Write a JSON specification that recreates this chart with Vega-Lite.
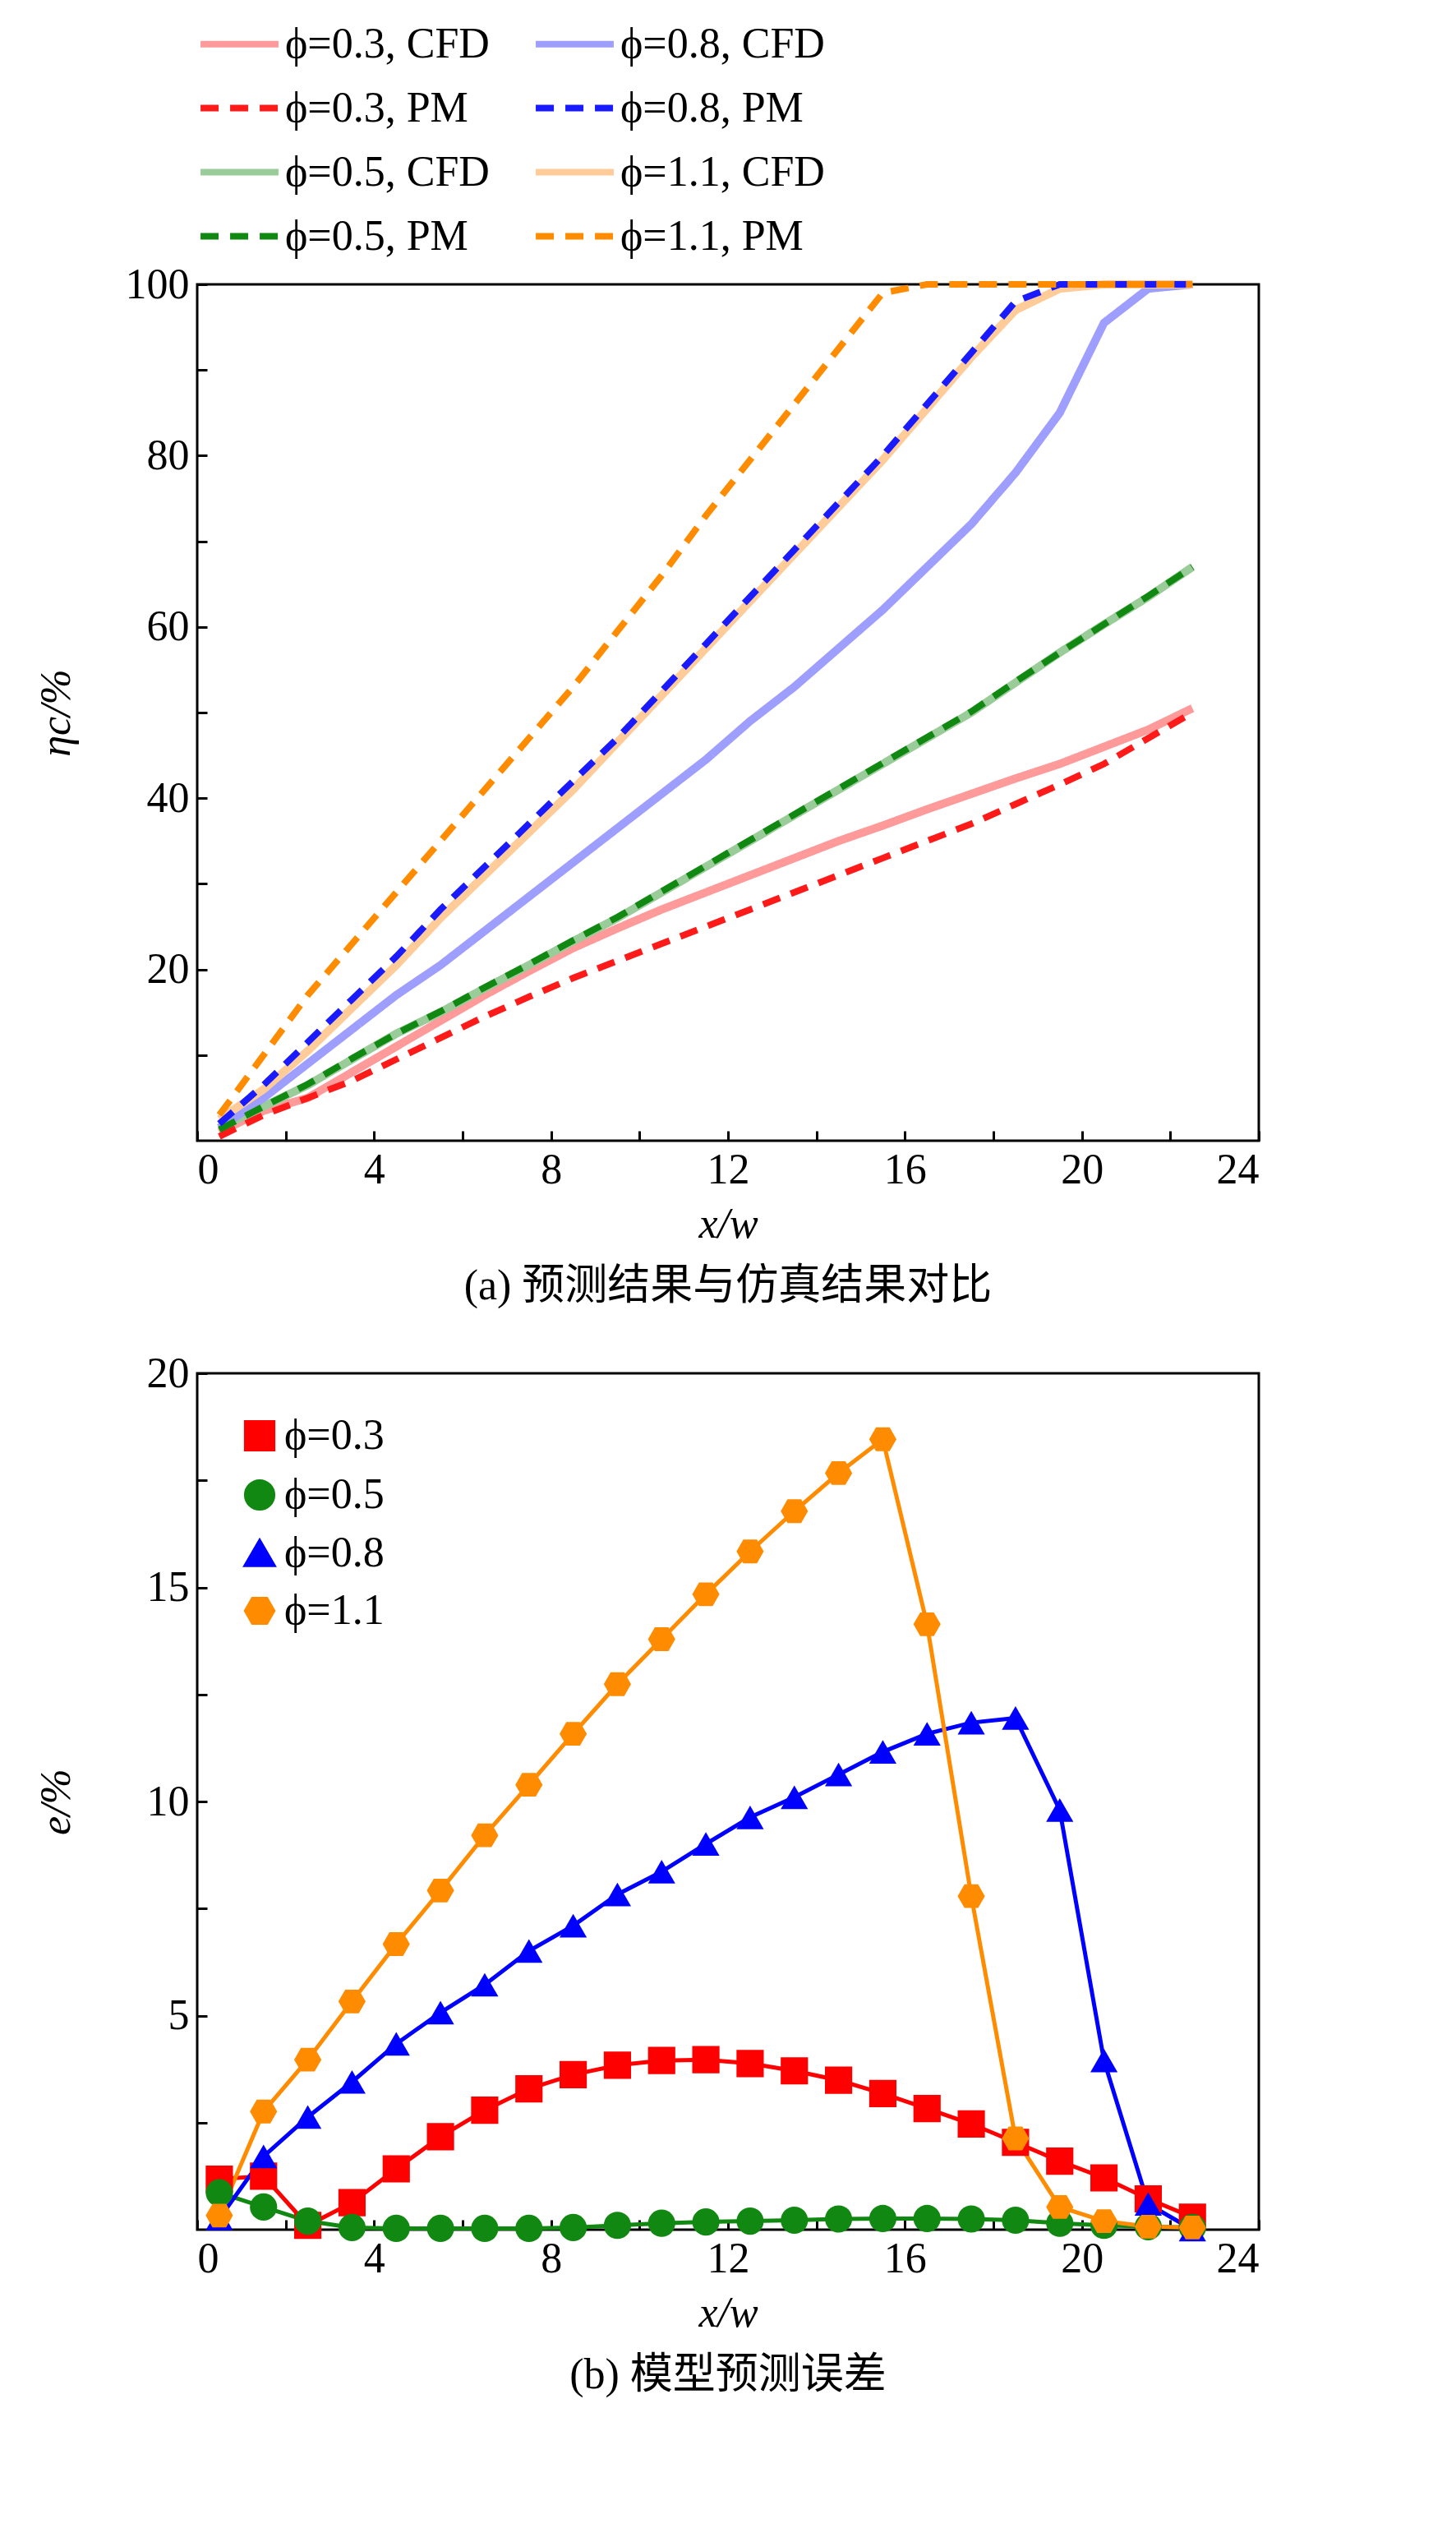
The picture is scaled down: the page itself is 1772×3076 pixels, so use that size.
{
  "$schema": "https://vega.github.io/schema/vega-lite/v6.json",
  "background": "white",
  "padding": {"left": 40, "top": 0, "right": 20, "bottom": 10},
  "spacing": 50,
  "resolve": {"scale": {"color": "independent", "shape": "independent", "strokeDash": "independent"}, "legend": {"color": "independent", "shape": "independent", "strokeDash": "independent"}},
  "config": {
    "font": "Liberation Serif",
    "view": {"stroke": "black", "strokeWidth": 3},
    "axis": {
      "labelFont": "Liberation Serif", "titleFont": "Liberation Serif",
      "labelFontSize": 52, "titleFontSize": 52, "titleFontWeight": "normal",
      "labelColor": "black", "titleColor": "black",
      "tickColor": "black", "tickSize": -12, "tickWidth": 3,
      "domain": false, "grid": false, "labelPadding": 22
    },
    "legend": {"labelFont": "Liberation Serif", "labelFontSize": 52, "labelColor": "black"},
    "title": {"font": "Liberation Serif, Noto Sans CJK SC", "fontSize": 52, "fontWeight": "normal", "color": "black", "orient": "bottom", "offset": 25}
  },
  "datasets": {
    "top": [
      {"x":0.5,"v":1,"s":"ϕ=0.3, CFD","t":"CFD"},{"x":1.5,"v":3.5,"s":"ϕ=0.3, CFD","t":"CFD"},{"x":2.5,"v":5,"s":"ϕ=0.3, CFD","t":"CFD"},{"x":3.5,"v":8,"s":"ϕ=0.3, CFD","t":"CFD"},{"x":4.5,"v":11,"s":"ϕ=0.3, CFD","t":"CFD"},{"x":5.5,"v":14,"s":"ϕ=0.3, CFD","t":"CFD"},{"x":6.5,"v":17,"s":"ϕ=0.3, CFD","t":"CFD"},{"x":7.5,"v":19.8,"s":"ϕ=0.3, CFD","t":"CFD"},{"x":8.5,"v":22.5,"s":"ϕ=0.3, CFD","t":"CFD"},{"x":9.5,"v":24.8,"s":"ϕ=0.3, CFD","t":"CFD"},{"x":10.5,"v":27,"s":"ϕ=0.3, CFD","t":"CFD"},{"x":11.5,"v":29,"s":"ϕ=0.3, CFD","t":"CFD"},{"x":12.5,"v":31,"s":"ϕ=0.3, CFD","t":"CFD"},{"x":13.5,"v":33,"s":"ϕ=0.3, CFD","t":"CFD"},{"x":14.5,"v":35,"s":"ϕ=0.3, CFD","t":"CFD"},{"x":15.5,"v":36.8,"s":"ϕ=0.3, CFD","t":"CFD"},{"x":16.5,"v":38.7,"s":"ϕ=0.3, CFD","t":"CFD"},{"x":17.5,"v":40.5,"s":"ϕ=0.3, CFD","t":"CFD"},{"x":18.5,"v":42.3,"s":"ϕ=0.3, CFD","t":"CFD"},{"x":19.5,"v":44,"s":"ϕ=0.3, CFD","t":"CFD"},{"x":20.5,"v":46,"s":"ϕ=0.3, CFD","t":"CFD"},{"x":21.5,"v":48,"s":"ϕ=0.3, CFD","t":"CFD"},{"x":22.5,"v":50.5,"s":"ϕ=0.3, CFD","t":"CFD"},
      {"x":0.5,"v":0.5,"s":"ϕ=0.3, PM","t":"PM"},{"x":1.5,"v":3,"s":"ϕ=0.3, PM","t":"PM"},{"x":2.5,"v":5,"s":"ϕ=0.3, PM","t":"PM"},{"x":3.5,"v":7,"s":"ϕ=0.3, PM","t":"PM"},{"x":4.5,"v":9.5,"s":"ϕ=0.3, PM","t":"PM"},{"x":5.5,"v":12,"s":"ϕ=0.3, PM","t":"PM"},{"x":6.5,"v":14.5,"s":"ϕ=0.3, PM","t":"PM"},{"x":7.5,"v":16.8,"s":"ϕ=0.3, PM","t":"PM"},{"x":8.5,"v":19,"s":"ϕ=0.3, PM","t":"PM"},{"x":9.5,"v":21,"s":"ϕ=0.3, PM","t":"PM"},{"x":10.5,"v":23,"s":"ϕ=0.3, PM","t":"PM"},{"x":11.5,"v":25,"s":"ϕ=0.3, PM","t":"PM"},{"x":12.5,"v":27,"s":"ϕ=0.3, PM","t":"PM"},{"x":13.5,"v":29,"s":"ϕ=0.3, PM","t":"PM"},{"x":14.5,"v":31,"s":"ϕ=0.3, PM","t":"PM"},{"x":15.5,"v":33,"s":"ϕ=0.3, PM","t":"PM"},{"x":16.5,"v":35,"s":"ϕ=0.3, PM","t":"PM"},{"x":17.5,"v":37,"s":"ϕ=0.3, PM","t":"PM"},{"x":18.5,"v":39.3,"s":"ϕ=0.3, PM","t":"PM"},{"x":19.5,"v":41.6,"s":"ϕ=0.3, PM","t":"PM"},{"x":20.5,"v":44,"s":"ϕ=0.3, PM","t":"PM"},{"x":21.5,"v":47,"s":"ϕ=0.3, PM","t":"PM"},{"x":22.5,"v":50,"s":"ϕ=0.3, PM","t":"PM"},
      {"x":0.5,"v":1.5,"s":"ϕ=0.5, CFD","t":"CFD"},{"x":1.5,"v":4,"s":"ϕ=0.5, CFD","t":"CFD"},{"x":2.5,"v":6.5,"s":"ϕ=0.5, CFD","t":"CFD"},{"x":3.5,"v":9.5,"s":"ϕ=0.5, CFD","t":"CFD"},{"x":4.5,"v":12.5,"s":"ϕ=0.5, CFD","t":"CFD"},{"x":5.5,"v":15,"s":"ϕ=0.5, CFD","t":"CFD"},{"x":6.5,"v":17.8,"s":"ϕ=0.5, CFD","t":"CFD"},{"x":7.5,"v":20.5,"s":"ϕ=0.5, CFD","t":"CFD"},{"x":8.5,"v":23.3,"s":"ϕ=0.5, CFD","t":"CFD"},{"x":9.5,"v":26,"s":"ϕ=0.5, CFD","t":"CFD"},{"x":10.5,"v":29,"s":"ϕ=0.5, CFD","t":"CFD"},{"x":11.5,"v":32,"s":"ϕ=0.5, CFD","t":"CFD"},{"x":12.5,"v":35,"s":"ϕ=0.5, CFD","t":"CFD"},{"x":13.5,"v":38,"s":"ϕ=0.5, CFD","t":"CFD"},{"x":14.5,"v":41,"s":"ϕ=0.5, CFD","t":"CFD"},{"x":15.5,"v":44,"s":"ϕ=0.5, CFD","t":"CFD"},{"x":16.5,"v":47,"s":"ϕ=0.5, CFD","t":"CFD"},{"x":17.5,"v":50,"s":"ϕ=0.5, CFD","t":"CFD"},{"x":18.5,"v":53.5,"s":"ϕ=0.5, CFD","t":"CFD"},{"x":19.5,"v":57,"s":"ϕ=0.5, CFD","t":"CFD"},{"x":20.5,"v":60.3,"s":"ϕ=0.5, CFD","t":"CFD"},{"x":21.5,"v":63.5,"s":"ϕ=0.5, CFD","t":"CFD"},{"x":22.5,"v":67,"s":"ϕ=0.5, CFD","t":"CFD"},
      {"x":0.5,"v":1.3,"s":"ϕ=0.5, PM","t":"PM"},{"x":1.5,"v":4,"s":"ϕ=0.5, PM","t":"PM"},{"x":2.5,"v":6.6,"s":"ϕ=0.5, PM","t":"PM"},{"x":3.5,"v":9.6,"s":"ϕ=0.5, PM","t":"PM"},{"x":4.5,"v":12.5,"s":"ϕ=0.5, PM","t":"PM"},{"x":5.5,"v":15.1,"s":"ϕ=0.5, PM","t":"PM"},{"x":6.5,"v":17.9,"s":"ϕ=0.5, PM","t":"PM"},{"x":7.5,"v":20.6,"s":"ϕ=0.5, PM","t":"PM"},{"x":8.5,"v":23.4,"s":"ϕ=0.5, PM","t":"PM"},{"x":9.5,"v":26.1,"s":"ϕ=0.5, PM","t":"PM"},{"x":10.5,"v":29.1,"s":"ϕ=0.5, PM","t":"PM"},{"x":11.5,"v":32.1,"s":"ϕ=0.5, PM","t":"PM"},{"x":12.5,"v":35.1,"s":"ϕ=0.5, PM","t":"PM"},{"x":13.5,"v":38.1,"s":"ϕ=0.5, PM","t":"PM"},{"x":14.5,"v":41.1,"s":"ϕ=0.5, PM","t":"PM"},{"x":15.5,"v":44.1,"s":"ϕ=0.5, PM","t":"PM"},{"x":16.5,"v":47.1,"s":"ϕ=0.5, PM","t":"PM"},{"x":17.5,"v":50.1,"s":"ϕ=0.5, PM","t":"PM"},{"x":18.5,"v":53.6,"s":"ϕ=0.5, PM","t":"PM"},{"x":19.5,"v":57,"s":"ϕ=0.5, PM","t":"PM"},{"x":20.5,"v":60.3,"s":"ϕ=0.5, PM","t":"PM"},{"x":21.5,"v":63.6,"s":"ϕ=0.5, PM","t":"PM"},{"x":22.5,"v":67,"s":"ϕ=0.5, PM","t":"PM"},
      {"x":0.5,"v":1.5,"s":"ϕ=0.8, CFD","t":"CFD"},{"x":1.5,"v":5,"s":"ϕ=0.8, CFD","t":"CFD"},{"x":2.5,"v":9,"s":"ϕ=0.8, CFD","t":"CFD"},{"x":3.5,"v":13,"s":"ϕ=0.8, CFD","t":"CFD"},{"x":4.5,"v":17,"s":"ϕ=0.8, CFD","t":"CFD"},{"x":5.5,"v":20.5,"s":"ϕ=0.8, CFD","t":"CFD"},{"x":6.5,"v":24.5,"s":"ϕ=0.8, CFD","t":"CFD"},{"x":7.5,"v":28.5,"s":"ϕ=0.8, CFD","t":"CFD"},{"x":8.5,"v":32.5,"s":"ϕ=0.8, CFD","t":"CFD"},{"x":9.5,"v":36.5,"s":"ϕ=0.8, CFD","t":"CFD"},{"x":10.5,"v":40.5,"s":"ϕ=0.8, CFD","t":"CFD"},{"x":11.5,"v":44.5,"s":"ϕ=0.8, CFD","t":"CFD"},{"x":12.5,"v":49,"s":"ϕ=0.8, CFD","t":"CFD"},{"x":13.5,"v":53,"s":"ϕ=0.8, CFD","t":"CFD"},{"x":14.5,"v":57.5,"s":"ϕ=0.8, CFD","t":"CFD"},{"x":15.5,"v":62,"s":"ϕ=0.8, CFD","t":"CFD"},{"x":16.5,"v":67,"s":"ϕ=0.8, CFD","t":"CFD"},{"x":17.5,"v":72,"s":"ϕ=0.8, CFD","t":"CFD"},{"x":18.5,"v":78,"s":"ϕ=0.8, CFD","t":"CFD"},{"x":19.5,"v":85,"s":"ϕ=0.8, CFD","t":"CFD"},{"x":20.5,"v":95.5,"s":"ϕ=0.8, CFD","t":"CFD"},{"x":21.5,"v":99.5,"s":"ϕ=0.8, CFD","t":"CFD"},{"x":22.5,"v":100,"s":"ϕ=0.8, CFD","t":"CFD"},
      {"x":0.5,"v":2,"s":"ϕ=0.8, PM","t":"PM"},{"x":1.5,"v":6.5,"s":"ϕ=0.8, PM","t":"PM"},{"x":2.5,"v":11.5,"s":"ϕ=0.8, PM","t":"PM"},{"x":3.5,"v":16.5,"s":"ϕ=0.8, PM","t":"PM"},{"x":4.5,"v":21.5,"s":"ϕ=0.8, PM","t":"PM"},{"x":5.5,"v":27,"s":"ϕ=0.8, PM","t":"PM"},{"x":6.5,"v":32,"s":"ϕ=0.8, PM","t":"PM"},{"x":7.5,"v":37,"s":"ϕ=0.8, PM","t":"PM"},{"x":8.5,"v":42,"s":"ϕ=0.8, PM","t":"PM"},{"x":9.5,"v":47,"s":"ϕ=0.8, PM","t":"PM"},{"x":10.5,"v":52.5,"s":"ϕ=0.8, PM","t":"PM"},{"x":11.5,"v":58,"s":"ϕ=0.8, PM","t":"PM"},{"x":12.5,"v":63.5,"s":"ϕ=0.8, PM","t":"PM"},{"x":13.5,"v":69,"s":"ϕ=0.8, PM","t":"PM"},{"x":14.5,"v":74.5,"s":"ϕ=0.8, PM","t":"PM"},{"x":15.5,"v":80,"s":"ϕ=0.8, PM","t":"PM"},{"x":16.5,"v":86,"s":"ϕ=0.8, PM","t":"PM"},{"x":17.5,"v":92,"s":"ϕ=0.8, PM","t":"PM"},{"x":18.5,"v":98,"s":"ϕ=0.8, PM","t":"PM"},{"x":19.5,"v":100,"s":"ϕ=0.8, PM","t":"PM"},{"x":20.5,"v":100,"s":"ϕ=0.8, PM","t":"PM"},{"x":21.5,"v":100,"s":"ϕ=0.8, PM","t":"PM"},{"x":22.5,"v":100,"s":"ϕ=0.8, PM","t":"PM"},
      {"x":0.5,"v":2.5,"s":"ϕ=1.1, CFD","t":"CFD"},{"x":1.5,"v":6,"s":"ϕ=1.1, CFD","t":"CFD"},{"x":2.5,"v":10.5,"s":"ϕ=1.1, CFD","t":"CFD"},{"x":3.5,"v":15.5,"s":"ϕ=1.1, CFD","t":"CFD"},{"x":4.5,"v":20.5,"s":"ϕ=1.1, CFD","t":"CFD"},{"x":5.5,"v":26,"s":"ϕ=1.1, CFD","t":"CFD"},{"x":6.5,"v":31,"s":"ϕ=1.1, CFD","t":"CFD"},{"x":7.5,"v":36,"s":"ϕ=1.1, CFD","t":"CFD"},{"x":8.5,"v":41,"s":"ϕ=1.1, CFD","t":"CFD"},{"x":9.5,"v":46.5,"s":"ϕ=1.1, CFD","t":"CFD"},{"x":10.5,"v":52,"s":"ϕ=1.1, CFD","t":"CFD"},{"x":11.5,"v":57.5,"s":"ϕ=1.1, CFD","t":"CFD"},{"x":12.5,"v":63,"s":"ϕ=1.1, CFD","t":"CFD"},{"x":13.5,"v":68.5,"s":"ϕ=1.1, CFD","t":"CFD"},{"x":14.5,"v":74,"s":"ϕ=1.1, CFD","t":"CFD"},{"x":15.5,"v":79.5,"s":"ϕ=1.1, CFD","t":"CFD"},{"x":16.5,"v":85.5,"s":"ϕ=1.1, CFD","t":"CFD"},{"x":17.5,"v":91.5,"s":"ϕ=1.1, CFD","t":"CFD"},{"x":18.5,"v":97,"s":"ϕ=1.1, CFD","t":"CFD"},{"x":19.5,"v":99.5,"s":"ϕ=1.1, CFD","t":"CFD"},{"x":20.5,"v":100,"s":"ϕ=1.1, CFD","t":"CFD"},{"x":21.5,"v":100,"s":"ϕ=1.1, CFD","t":"CFD"},{"x":22.5,"v":100,"s":"ϕ=1.1, CFD","t":"CFD"},
      {"x":0.5,"v":3,"s":"ϕ=1.1, PM","t":"PM"},{"x":1.5,"v":10,"s":"ϕ=1.1, PM","t":"PM"},{"x":2.5,"v":17,"s":"ϕ=1.1, PM","t":"PM"},{"x":3.5,"v":23,"s":"ϕ=1.1, PM","t":"PM"},{"x":4.5,"v":29,"s":"ϕ=1.1, PM","t":"PM"},{"x":5.5,"v":35,"s":"ϕ=1.1, PM","t":"PM"},{"x":6.5,"v":41,"s":"ϕ=1.1, PM","t":"PM"},{"x":7.5,"v":47,"s":"ϕ=1.1, PM","t":"PM"},{"x":8.5,"v":53,"s":"ϕ=1.1, PM","t":"PM"},{"x":9.5,"v":59.5,"s":"ϕ=1.1, PM","t":"PM"},{"x":10.5,"v":66,"s":"ϕ=1.1, PM","t":"PM"},{"x":11.5,"v":73,"s":"ϕ=1.1, PM","t":"PM"},{"x":12.5,"v":79.5,"s":"ϕ=1.1, PM","t":"PM"},{"x":13.5,"v":86,"s":"ϕ=1.1, PM","t":"PM"},{"x":14.5,"v":92.5,"s":"ϕ=1.1, PM","t":"PM"},{"x":15.5,"v":99,"s":"ϕ=1.1, PM","t":"PM"},{"x":16.5,"v":100,"s":"ϕ=1.1, PM","t":"PM"},{"x":17.5,"v":100,"s":"ϕ=1.1, PM","t":"PM"},{"x":18.5,"v":100,"s":"ϕ=1.1, PM","t":"PM"},{"x":19.5,"v":100,"s":"ϕ=1.1, PM","t":"PM"},{"x":20.5,"v":100,"s":"ϕ=1.1, PM","t":"PM"},{"x":21.5,"v":100,"s":"ϕ=1.1, PM","t":"PM"},{"x":22.5,"v":100,"s":"ϕ=1.1, PM","t":"PM"}
    ],
    "bottom": [
      {"x":0.5,"e":1.18,"s":"ϕ=0.3"},{"x":1.5,"e":1.25,"s":"ϕ=0.3"},{"x":2.5,"e":0.1,"s":"ϕ=0.3"},{"x":3.5,"e":0.63,"s":"ϕ=0.3"},{"x":4.5,"e":1.42,"s":"ϕ=0.3"},{"x":5.5,"e":2.17,"s":"ϕ=0.3"},{"x":6.5,"e":2.79,"s":"ϕ=0.3"},{"x":7.5,"e":3.29,"s":"ϕ=0.3"},{"x":8.5,"e":3.62,"s":"ϕ=0.3"},{"x":9.5,"e":3.84,"s":"ϕ=0.3"},{"x":10.5,"e":3.95,"s":"ϕ=0.3"},{"x":11.5,"e":3.97,"s":"ϕ=0.3"},{"x":12.5,"e":3.88,"s":"ϕ=0.3"},{"x":13.5,"e":3.71,"s":"ϕ=0.3"},{"x":14.5,"e":3.49,"s":"ϕ=0.3"},{"x":15.5,"e":3.18,"s":"ϕ=0.3"},{"x":16.5,"e":2.83,"s":"ϕ=0.3"},{"x":17.5,"e":2.47,"s":"ϕ=0.3"},{"x":18.5,"e":2.04,"s":"ϕ=0.3"},{"x":19.5,"e":1.6,"s":"ϕ=0.3"},{"x":20.5,"e":1.21,"s":"ϕ=0.3"},{"x":21.5,"e":0.72,"s":"ϕ=0.3"},{"x":22.5,"e":0.29,"s":"ϕ=0.3"},
      {"x":0.5,"e":0.86,"s":"ϕ=0.5"},{"x":1.5,"e":0.53,"s":"ϕ=0.5"},{"x":2.5,"e":0.2,"s":"ϕ=0.5"},{"x":3.5,"e":0.05,"s":"ϕ=0.5"},{"x":4.5,"e":0.03,"s":"ϕ=0.5"},{"x":5.5,"e":0.03,"s":"ϕ=0.5"},{"x":6.5,"e":0.03,"s":"ϕ=0.5"},{"x":7.5,"e":0.03,"s":"ϕ=0.5"},{"x":8.5,"e":0.05,"s":"ϕ=0.5"},{"x":9.5,"e":0.1,"s":"ϕ=0.5"},{"x":10.5,"e":0.15,"s":"ϕ=0.5"},{"x":11.5,"e":0.18,"s":"ϕ=0.5"},{"x":12.5,"e":0.2,"s":"ϕ=0.5"},{"x":13.5,"e":0.22,"s":"ϕ=0.5"},{"x":14.5,"e":0.25,"s":"ϕ=0.5"},{"x":15.5,"e":0.26,"s":"ϕ=0.5"},{"x":16.5,"e":0.26,"s":"ϕ=0.5"},{"x":17.5,"e":0.25,"s":"ϕ=0.5"},{"x":18.5,"e":0.22,"s":"ϕ=0.5"},{"x":19.5,"e":0.15,"s":"ϕ=0.5"},{"x":20.5,"e":0.1,"s":"ϕ=0.5"},{"x":21.5,"e":0.07,"s":"ϕ=0.5"},{"x":22.5,"e":0.05,"s":"ϕ=0.5"},
      {"x":0.5,"e":0.26,"s":"ϕ=0.8"},{"x":1.5,"e":1.71,"s":"ϕ=0.8"},{"x":2.5,"e":2.63,"s":"ϕ=0.8"},{"x":3.5,"e":3.45,"s":"ϕ=0.8"},{"x":4.5,"e":4.34,"s":"ϕ=0.8"},{"x":5.5,"e":5.07,"s":"ϕ=0.8"},{"x":6.5,"e":5.72,"s":"ϕ=0.8"},{"x":7.5,"e":6.51,"s":"ϕ=0.8"},{"x":8.5,"e":7.1,"s":"ϕ=0.8"},{"x":9.5,"e":7.83,"s":"ϕ=0.8"},{"x":10.5,"e":8.36,"s":"ϕ=0.8"},{"x":11.5,"e":9.01,"s":"ϕ=0.8"},{"x":12.5,"e":9.63,"s":"ϕ=0.8"},{"x":13.5,"e":10.1,"s":"ϕ=0.8"},{"x":14.5,"e":10.63,"s":"ϕ=0.8"},{"x":15.5,"e":11.16,"s":"ϕ=0.8"},{"x":16.5,"e":11.58,"s":"ϕ=0.8"},{"x":17.5,"e":11.84,"s":"ϕ=0.8"},{"x":18.5,"e":11.95,"s":"ϕ=0.8"},{"x":19.5,"e":9.8,"s":"ϕ=0.8"},{"x":20.5,"e":3.95,"s":"ϕ=0.8"},{"x":21.5,"e":0.6,"s":"ϕ=0.8"},{"x":22.5,"e":0,"s":"ϕ=0.8"},
      {"x":0.5,"e":0.33,"s":"ϕ=1.1"},{"x":1.5,"e":2.76,"s":"ϕ=1.1"},{"x":2.5,"e":3.97,"s":"ϕ=1.1"},{"x":3.5,"e":5.33,"s":"ϕ=1.1"},{"x":4.5,"e":6.67,"s":"ϕ=1.1"},{"x":5.5,"e":7.92,"s":"ϕ=1.1"},{"x":6.5,"e":9.21,"s":"ϕ=1.1"},{"x":7.5,"e":10.39,"s":"ϕ=1.1"},{"x":8.5,"e":11.58,"s":"ϕ=1.1"},{"x":9.5,"e":12.74,"s":"ϕ=1.1"},{"x":10.5,"e":13.79,"s":"ϕ=1.1"},{"x":11.5,"e":14.84,"s":"ϕ=1.1"},{"x":12.5,"e":15.84,"s":"ϕ=1.1"},{"x":13.5,"e":16.78,"s":"ϕ=1.1"},{"x":14.5,"e":17.67,"s":"ϕ=1.1"},{"x":15.5,"e":18.46,"s":"ϕ=1.1"},{"x":16.5,"e":14.14,"s":"ϕ=1.1"},{"x":17.5,"e":7.79,"s":"ϕ=1.1"},{"x":18.5,"e":2.13,"s":"ϕ=1.1"},{"x":19.5,"e":0.53,"s":"ϕ=1.1"},{"x":20.5,"e":0.2,"s":"ϕ=1.1"},{"x":21.5,"e":0.07,"s":"ϕ=1.1"},{"x":22.5,"e":0.05,"s":"ϕ=1.1"}
    ]
  },
  "vconcat": [
    {
      "width": 1292, "height": 1042,
      "title": "(a) 预测结果与仿真结果对比",
      "data": {"name": "top"},
      "encoding": {
        "x": {"field": "x", "type": "quantitative", "scale": {"domain": [0, 24], "nice": false},
          "axis": {"title": "x/w", "titleFontStyle": "italic", "values": [0,2,4,6,8,10,12,14,16,18,20,22,24], "labelExpr": "datum.value % 4 == 0 ? datum.label : ''", "titlePadding": 15}},
        "y": {"field": "v", "type": "quantitative", "scale": {"domain": [0, 100], "nice": false},
          "axis": {"title": "ηc/%", "titleFontStyle": "italic", "values": [10,20,30,40,50,60,70,80,90,100], "labelExpr": "datum.value % 20 == 0 ? datum.label : ''", "minExtent": 120, "titlePadding": 25}},
        "color": {"field": "s", "type": "nominal",
          "scale": {"domain": ["ϕ=0.3, CFD","ϕ=0.8, CFD","ϕ=0.3, PM","ϕ=0.8, PM","ϕ=0.5, CFD","ϕ=1.1, CFD","ϕ=0.5, PM","ϕ=1.1, PM"],
            "range": ["#ff9a9a","#9e9eff","#ff1a1a","#1a1aff","#99cc99","#ffcc99","#118811","#ff8c00"]},
          "legend": {"title": null, "orient": "top", "direction": "horizontal", "columns": 2, "symbolType": "stroke", "symbolSize": 9000, "symbolStrokeWidth": 8, "rowPadding": 0, "columnPadding": 40, "labelLimit": 600, "offset": 12}},
        "strokeDash": {"field": "s", "type": "nominal",
          "scale": {"domain": ["ϕ=0.3, CFD","ϕ=0.8, CFD","ϕ=0.3, PM","ϕ=0.8, PM","ϕ=0.5, CFD","ϕ=1.1, CFD","ϕ=0.5, PM","ϕ=1.1, PM"],
            "range": [[1,0],[1,0],[22,14],[22,14],[1,0],[1,0],[22,14],[22,14]]}}
      },
      "layer": [
        {"transform": [{"filter": "datum.t == 'CFD'"}], "mark": {"type": "line", "strokeWidth": 10}},
        {"transform": [{"filter": "datum.t == 'PM'"}], "mark": {"type": "line", "strokeWidth": 8}}
      ]
    },
    {
      "width": 1292, "height": 1042,
      "title": "(b) 模型预测误差",
      "data": {"name": "bottom"},
      "encoding": {
        "x": {"field": "x", "type": "quantitative", "scale": {"domain": [0, 24], "nice": false},
          "axis": {"title": "x/w", "titleFontStyle": "italic", "values": [0,2,4,6,8,10,12,14,16,18,20,22,24], "labelExpr": "datum.value % 4 == 0 ? datum.label : ''", "titlePadding": 15}},
        "y": {"field": "e", "type": "quantitative", "scale": {"domain": [0, 20], "nice": false},
          "axis": {"title": "e/%", "titleFontStyle": "italic", "values": [2.5,5,7.5,10,12.5,15,17.5,20], "labelExpr": "datum.value % 5 == 0 ? datum.label : ''", "minExtent": 120, "titlePadding": 25}},
        "color": {"field": "s", "type": "nominal",
          "scale": {"domain": ["ϕ=0.3","ϕ=0.5","ϕ=0.8","ϕ=1.1"], "range": ["#ff0000","#118811","#0000ff","#ff8c00"]},
          "legend": {"title": null, "orient": "top-left", "offset": 50, "symbolSize": 1100, "symbolStrokeWidth": 5, "rowPadding": 18, "labelLimit": 400}},
        "shape": {"field": "s", "type": "nominal",
          "scale": {"domain": ["ϕ=0.3","ϕ=0.5","ϕ=0.8","ϕ=1.1"], "range": ["square","circle","triangle-up","M-1,0L-0.5,-0.87L0.5,-0.87L1,0L0.5,0.87L-0.5,0.87Z"]}}
      },
      "layer": [
        {"mark": {"type": "line", "strokeWidth": 5}},
        {"mark": {"type": "point", "filled": true, "opacity": 1, "size": 1100}}
      ]
    }
  ]
}
